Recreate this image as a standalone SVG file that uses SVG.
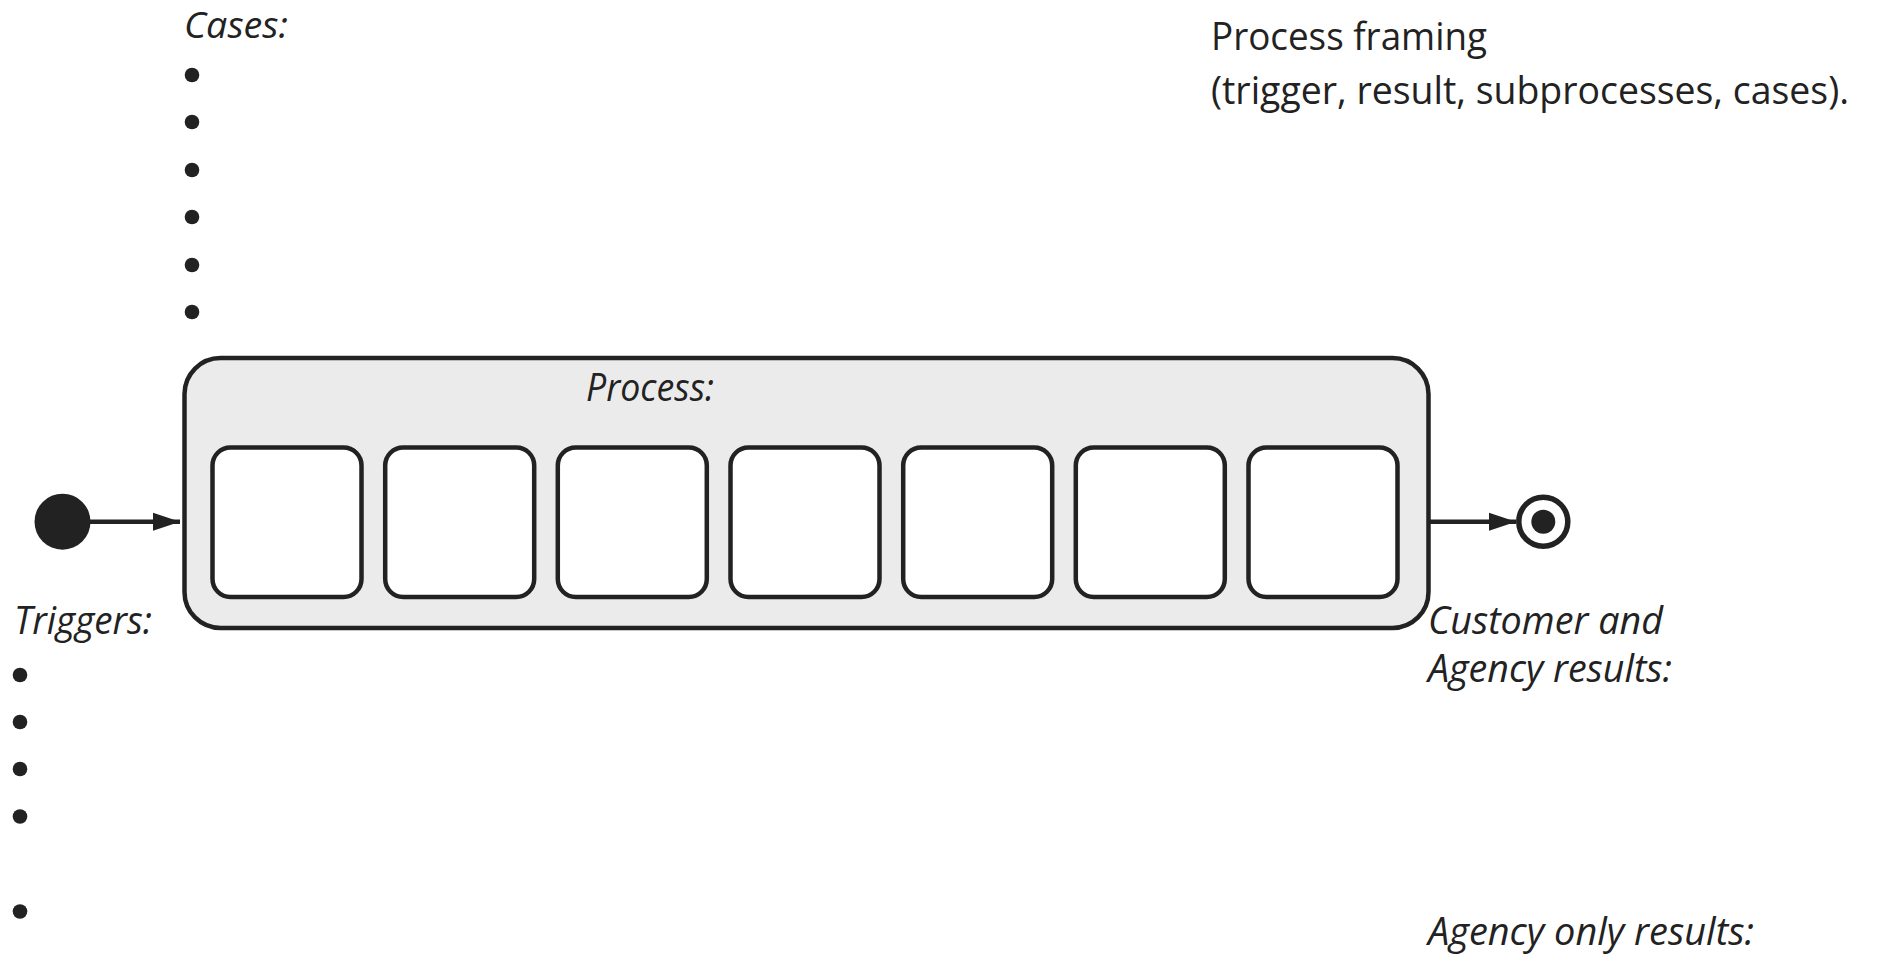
<svg xmlns="http://www.w3.org/2000/svg" width="1877" height="956" viewBox="0 0 1877 956">
<style>
text { font-family: "Open Sans", "Liberation Sans", sans-serif; fill: #222; font-size: 38px; }
.it { font-style: italic; }
.outer { fill: #ebebeb; stroke: #222; stroke-width: 4.5; }
.inner { fill: #fff; stroke: #222; stroke-width: 4.5; }
.bullet { fill: #222; }
.conn { stroke: #222; stroke-width: 4.5; fill: none; }
</style>
<defs>
<marker id="arrow" markerUnits="userSpaceOnUse" markerWidth="28" markerHeight="20" viewBox="0 0 28 20" refX="27" refY="10" orient="auto">
<path d="M0,1 L27,10 L0,19 Z" fill="#222"/>
</marker>
</defs>
<rect width="1877" height="956" fill="#fff"/>

<g id="title">
<text x="1211" y="50" textLength="276" lengthAdjust="spacingAndGlyphs">Process framing</text>
<text x="1211" y="104" textLength="638" lengthAdjust="spacingAndGlyphs">(trigger, result, subprocesses, cases).</text>
</g>

<g id="cases">
<text class="it" x="184" y="38" style="font-size:36px" textLength="104" lengthAdjust="spacingAndGlyphs">Cases:</text>
<circle class="bullet" cx="192" cy="75" r="7.3"/>
<circle class="bullet" cx="192" cy="122" r="7.3"/>
<circle class="bullet" cx="192" cy="170" r="7.3"/>
<circle class="bullet" cx="192" cy="217" r="7.3"/>
<circle class="bullet" cx="192" cy="265" r="7.3"/>
<circle class="bullet" cx="192" cy="312" r="7.3"/>
</g>

<g id="process">
<rect class="outer" x="184.5" y="358" width="1244" height="270" rx="36" ry="36"/>
<text class="it" x="586" y="401" textLength="128" lengthAdjust="spacingAndGlyphs">Process:</text>
<rect class="inner" x="212.5" y="447.5" width="149" height="149.5" rx="18"/>
<rect class="inner" x="385.2" y="447.5" width="149" height="149.5" rx="18"/>
<rect class="inner" x="557.8" y="447.5" width="149" height="149.5" rx="18"/>
<rect class="inner" x="730.5" y="447.5" width="149" height="149.5" rx="18"/>
<rect class="inner" x="903.2" y="447.5" width="149" height="149.5" rx="18"/>
<rect class="inner" x="1075.8" y="447.5" width="149" height="149.5" rx="18"/>
<rect class="inner" x="1248.5" y="447.5" width="149" height="149.5" rx="18"/>
</g>

<g id="start">
<circle cx="62.5" cy="521.7" r="28" fill="#222"/>
</g>

<g id="end">
<circle cx="1543.3" cy="521.7" r="24.5" fill="#fff" stroke="#222" stroke-width="5.5"/>
<circle cx="1543.3" cy="521.7" r="12" fill="#222"/>
</g>

<g id="connectors">
<line class="conn" x1="88" y1="521.7" x2="180" y2="521.7" marker-end="url(#arrow)"/>
<line class="conn" x1="1430" y1="521.7" x2="1516" y2="521.7" marker-end="url(#arrow)"/>
</g>

<g id="triggers">
<text class="it" x="14" y="634" textLength="138" lengthAdjust="spacingAndGlyphs">Triggers:</text>
<circle class="bullet" cx="20" cy="675" r="7.3"/>
<circle class="bullet" cx="20" cy="722" r="7.3"/>
<circle class="bullet" cx="20" cy="769" r="7.3"/>
<circle class="bullet" cx="20" cy="816.5" r="7.3"/>
<circle class="bullet" cx="20" cy="911.5" r="7.3"/>
</g>

<g id="results">
<text class="it" x="1428" y="634" textLength="235" lengthAdjust="spacingAndGlyphs">Customer and</text>
<text class="it" x="1428" y="682" textLength="244" lengthAdjust="spacingAndGlyphs">Agency results:</text>
<text class="it" x="1428" y="945" textLength="326" lengthAdjust="spacingAndGlyphs">Agency only results:</text>
</g>
</svg>
